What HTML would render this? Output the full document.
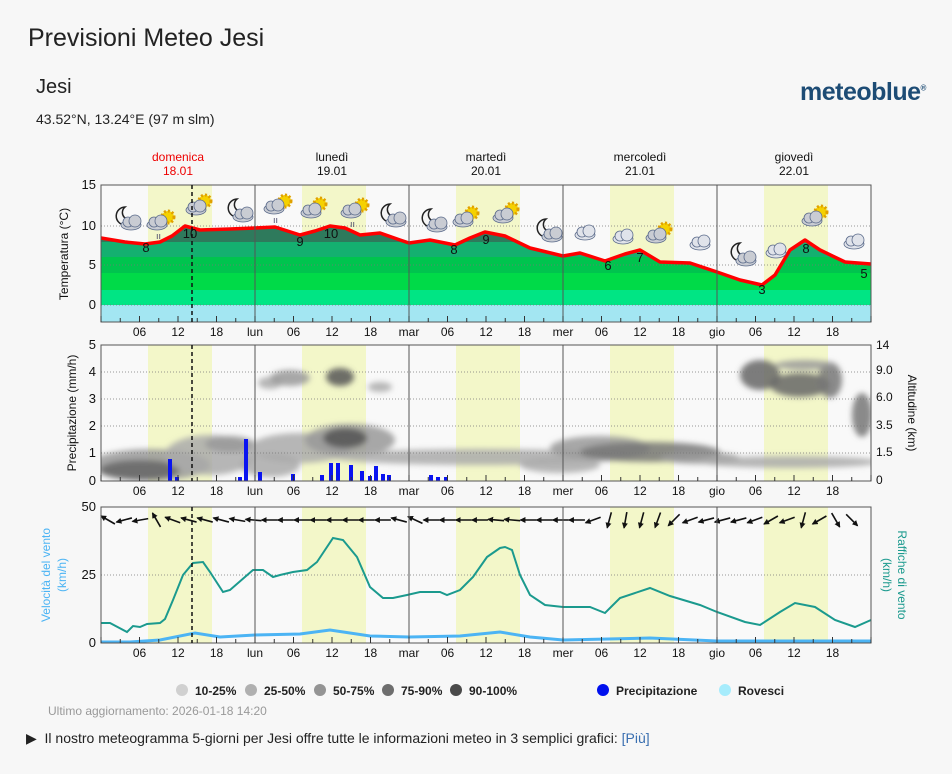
<!DOCTYPE html>
<html><head><meta charset="utf-8"><style>
body{margin:0;background:#f7f7f7;font-family:"Liberation Sans","DejaVu Sans",sans-serif;width:952px;height:774px;overflow:hidden;position:relative}
.t{position:absolute;white-space:nowrap}
</style></head><body>
<div class="t" style="left:28px;top:24px;font-size:25px;color:#222">Previsioni Meteo Jesi</div>
<div class="t" style="left:36px;top:76px;font-size:20px;color:#222">Jesi</div>
<div class="t" style="left:36px;top:111px;font-size:14px;color:#222">43.52°N, 13.24°E (97 m slm)</div>
<div class="t" style="left:800px;top:78px;font-size:25px;font-weight:bold;color:#1d4c75;letter-spacing:-0.5px">meteoblue<sup style="font-size:8px">®</sup></div>
<svg id="s" width="952" height="774" style="position:absolute;left:0;top:0" font-family="Liberation Sans, DejaVu Sans, sans-serif">
<defs>
<filter id="bl"><feGaussianBlur stdDeviation="3"/></filter>
<marker id="ah" markerUnits="userSpaceOnUse" markerWidth="6" markerHeight="6" refX="5" refY="3" orient="auto"><path d="M0,0 L6,3 L0,6z" fill="#111"/></marker>
<clipPath id="tc"><polygon id="tcp" points=""/></clipPath>
<clipPath id="pc"><rect x="101" y="345" width="770" height="136"/></clipPath>
</defs>
<g id="g"></g>
</svg>
<div class="t" style="left:48px;top:704px;font-size:12px;color:#999">Ultimo aggiornamento: 2026-01-18 14:20</div>
<div class="t" style="left:26px;top:730px;font-size:14px;color:#222">▶&nbsp; Il nostro meteogramma 5-giorni per Jesi offre tutte le informazioni meteo in 3 semplici grafici: <span style="color:#3a6fb0">[Più]</span></div>
<script>
var g=document.getElementById('g'),h='';
var X0=101,D=154,H=D/24;
function tx(x,y,s,o){o=o||{};h+='<text x="'+x+'" y="'+y+'" font-size="'+(o.fs||12)+'" fill="'+(o.c||'#111')+'" text-anchor="'+(o.a||'middle')+'"'+(o.t?' transform="'+o.t+'"':'')+'>'+s+'</text>';}
var panels=[[185,322],[345,481],[507,643]];
panels.forEach(function(p){
 h+='<rect x="101" y="'+p[0]+'" width="770" height="'+(p[1]-p[0])+'" fill="#f9f9f9"/>';
 for(var d=0;d<5;d++)h+='<rect x="'+(X0+d*D+47)+'" y="'+p[0]+'" width="64" height="'+(p[1]-p[0])+'" fill="#f3f7c9"/>';
});
var tp=[[101,238],[125,242],[145,244],[160,242],[172,236],[185,226],[200,230],[230,229],[255,228],[275,227],[300,235],[315,231],[330,226],[345,228],[360,235],[380,233],[400,240],[409,243],[430,240],[455,245],[470,238],[485,232],[505,236],[530,248],[563,256],[580,253],[605,261],[625,254],[640,250],[660,262],[690,263],[717,272],[740,280],[762,285],[775,275],[790,250],[805,240],[820,250],[845,262],[871,264]];
var poly=tp.map(function(p){return p.join(',')}).join(' ')+' 871,322 101,322';
document.getElementById('tcp').setAttribute('points',poly);
var bands=[[185,242,'#2e7a5c'],[242,257,'#14b070'],[257,273,'#00c44e'],[273,290,'#00da48'],[290,305,'#00e584'],[305,322,'#a3e6f2']];
h+='<g clip-path="url(#tc)">';bands.forEach(function(b){h+='<rect x="101" y="'+b[0]+'" width="770" height="'+(b[1]-b[0])+'" fill="'+b[2]+'"/>'});h+='</g>';
h+='<rect x="101" y="305" width="770" height="17" fill="#a3e6f2"/>';
[226,265,305].forEach(function(y){h+='<line x1="101" x2="871" y1="'+y+'" y2="'+y+'" stroke="#777" stroke-dasharray="1,2" stroke-width="0.7"/>'});
h+='<polyline points="'+tp.map(function(p){return p.join(',')}).join(' ')+'" fill="none" stroke="#f00" stroke-width="3.5" stroke-linejoin="round"/>';
[[146,252,'8'],[190,238,'10'],[300,246,'9'],[331,238,'10'],[454,254,'8'],[486,244,'9'],[608,270,'6'],[640,262,'7'],[762,294,'3'],[806,253,'8'],[864,278,'5']].forEach(function(l){tx(l[0],l[1],l[2],{fs:13})});
function cloud(x,y,c){h+='<g fill="'+(c||'#c9ccd3')+'" stroke="#5a6a8a" stroke-width="0.8"><ellipse cx="'+x+'" cy="'+(y+3)+'" rx="10" ry="5"/><circle cx="'+(x-3)+'" cy="'+y+'" r="5"/><circle cx="'+(x+4)+'" cy="'+(y-1)+'" r="6"/></g>';}
function sun(x,y){h+='<circle cx="'+x+'" cy="'+y+'" r="6" fill="#f5d100" stroke="#e0a000" stroke-width="3" stroke-dasharray="2,2"/>';}
function moon(x,y){h+='<path d="M'+x+','+(y-9)+' a9,9 0 1,0 9,11 a7,7 0 1,1 -9,-11z" fill="#f5f5f5" stroke="#222" stroke-width="1.5"/>';}
[[125,216,'m'],[160,222,'r'],[200,205,'s'],[237,208,'m'],[277,206,'r'],[315,208,'s'],[354,210,'r'],[390,213,'m'],[431,218,'m'],[467,217,'s'],[507,213,'s'],[546,228,'m'],[585,232,'c'],[623,236,'c'],[660,233,'s'],[700,242,'c'],[740,252,'m'],[776,250,'c'],[816,216,'s'],[854,241,'c']].forEach(function(i){
 if(i[2]=='m'){moon(i[0],i[1]);cloud(i[0]+6,i[1]+6)}
 else if(i[2]=='s'){sun(i[0]+5,i[1]-4);cloud(i[0]-4,i[1]+2)}
 else if(i[2]=='r'){sun(i[0]+8,i[1]-5);cloud(i[0]-3,i[1]);h+='<text x="'+(i[0]-4)+'" y="'+(i[1]+17)+'" font-size="9" fill="#446">ıı</text>'}
 else cloud(i[0],i[1],'#e0e3ea');
});
var cl=[[150,465,60,16,'#999'],[140,470,40,10,'#666'],[210,455,45,20,'#aaa'],[230,444,25,8,'#999'],[300,448,50,15,'#aaa'],[350,440,45,16,'#999'],[345,438,22,10,'#555'],[480,457,150,8,'#aaa'],[600,448,50,12,'#999'],[650,452,70,10,'#777'],[700,458,40,6,'#999'],[790,462,90,6,'#aaa'],[270,383,12,6,'#aaa'],[290,378,20,8,'#999'],[340,377,14,9,'#555'],[380,387,12,5,'#aaa'],[760,375,20,15,'#666'],[800,385,30,12,'#666'],[830,380,12,18,'#777'],[805,365,30,5,'#999'],[862,415,10,22,'#777'],[270,465,30,12,'#aaa'],[560,465,40,8,'#aaa']];
h+='<g clip-path="url(#pc)" filter="url(#bl)">';cl.forEach(function(c){h+='<ellipse cx="'+c[0]+'" cy="'+c[1]+'" rx="'+c[2]+'" ry="'+c[3]+'" fill="'+c[4]+'" opacity="0.85"/>'});h+='</g>';
[372,399,426,453].forEach(function(y){h+='<line x1="101" x2="871" y1="'+y+'" y2="'+y+'" stroke="#777" stroke-dasharray="1,2" stroke-width="0.7"/>'});
[[170,459],[177,477],[240,477],[246,439],[260,472],[293,474],[322,475],[331,463],[338,463],[351,465],[362,471],[370,476],[376,466],[383,474],[389,475],[431,475],[438,477],[446,477]].forEach(function(b){h+='<rect x="'+(b[0]-2)+'" y="'+b[1]+'" width="4" height="'+(481-b[1])+'" fill="#0a14f0"/>'});
h+='<line x1="101" x2="871" y1="575" y2="575" stroke="#777" stroke-dasharray="1,2" stroke-width="0.7"/>';
var gp=[[101,623],[110,623],[127,632],[133,626],[140,627],[147,624],[160,623],[165,619],[173,600],[183,575],[193,563],[203,562],[210,572],[223,592],[230,590],[253,570],[263,570],[273,577],[280,575],[293,572],[307,570],[317,562],[333,538],[343,540],[357,557],[370,587],[383,598],[393,598],[407,595],[420,592],[440,592],[447,595],[460,590],[473,577],[487,557],[500,548],[505,547],[512,550],[520,575],[530,595],[545,605],[563,607],[590,607],[605,613],[620,598],[650,588],[670,596],[700,605],[717,612],[745,622],[760,625],[780,612],[795,603],[815,607],[835,620],[855,627],[871,620]];
h+='<polyline points="'+gp.map(function(p){return p.join(',')}).join(' ')+'" fill="none" stroke="#1b9a8e" stroke-width="2"/>';
var wp=[[101,642],[130,642],[160,640],[195,633],[220,637],[255,635],[300,634],[330,630],[370,636],[409,637],[460,636],[500,632],[530,637],[563,640],[650,638],[717,641],[871,641]];
h+='<polyline points="'+wp.map(function(p){return p.join(',')}).join(' ')+'" fill="none" stroke="#4cb4f4" stroke-width="3"/>';
var ang=[150,195,190,120,160,165,165,165,170,175,180,180,180,180,180,180,180,180,165,155,180,180,180,180,175,175,180,180,180,180,200,255,260,255,250,225,200,195,195,195,200,210,200,255,210,300,315];
var n=ang.length,step=760/n;
for(var i=0;i<n;i++){var cx=108+i*step,cy=520,a=ang[i]*Math.PI/180,dx=Math.cos(a)*8,dy=-Math.sin(a)*8;
 h+='<line x1="'+(cx-dx)+'" y1="'+(cy-dy)+'" x2="'+(cx+dx)+'" y2="'+(cy+dy)+'" stroke="#111" stroke-width="1.6" marker-end="url(#ah)"/>';}
panels.forEach(function(p,k){
 h+='<rect x="101" y="'+p[0]+'" width="770" height="'+(p[1]-p[0])+'" fill="none" stroke="#555" stroke-width="1"/>';
 for(var d=1;d<5;d++)h+='<line x1="'+(X0+d*D)+'" x2="'+(X0+d*D)+'" y1="'+p[0]+'" y2="'+p[1]+'" stroke="#555"/>';
 h+='<line x1="192" x2="192" y1="'+p[0]+'" y2="'+p[1]+'" stroke="#111" stroke-width="1.5" stroke-dasharray="4,3"/>';
 for(var t=0;t<=120;t+=3)h+='<line x1="'+(X0+t*H)+'" x2="'+(X0+t*H)+'" y1="'+p[1]+'" y2="'+(p[1]-(t%6?4:6))+'" stroke="#333"/>';
 var dn=['','lun','mar','mer','gio'];
 for(var d=0;d<5;d++){[6,12,18].forEach(function(hh){tx(X0+d*D+hh*H,p[1]+14,(hh<10?'0':'')+hh,{fs:12})});if(d)tx(X0+d*D,p[1]+14,dn[d],{fs:12});}
});
[[185,'15'],[226,'10'],[265,'5'],[305,'0']].forEach(function(l){tx(96,l[0]+4,l[1],{a:'end',fs:13})});
[[345,'5'],[372,'4'],[399,'3'],[426,'2'],[453,'1'],[481,'0']].forEach(function(l){tx(96,l[0]+4,l[1],{a:'end',fs:13})});
[[345,'14'],[370,'9.0'],[397,'6.0'],[425,'3.5'],[452,'1.5'],[480,'0']].forEach(function(l){tx(876,l[0]+4,l[1],{a:'start',fs:12})});
[[507,'50'],[575,'25'],[643,'0']].forEach(function(l){tx(96,l[0]+4,l[1],{a:'end',fs:13})});
tx(68,254,'Temperatura (°C)',{fs:12,t:'rotate(-90 68 254)'});
tx(76,413,'Precipitazione (mm/h)',{fs:12,t:'rotate(-90 76 413)'});
tx(908,413,'Altitudine (km)',{fs:12,t:'rotate(90 908 413)'});
tx(50,575,'Velocità del vento',{fs:12,c:'#4cb4f4',t:'rotate(-90 50 575)'});
tx(66,575,'(km/h)',{fs:12,c:'#4cb4f4',t:'rotate(-90 66 575)'});
tx(898,575,'Raffiche di vento',{fs:12,c:'#1b9a8e',t:'rotate(90 898 575)'});
tx(883,575,'(km/h)',{fs:12,c:'#1b9a8e',t:'rotate(90 883 575)'});
[['domenica','18.01','#e00'],['lunedì','19.01','#111'],['martedì','20.01','#111'],['mercoledì','21.01','#111'],['giovedì','22.01','#111']].forEach(function(d,i){var x=X0+i*D+77;tx(x,161,d[0],{c:d[2]});tx(x,175,d[1],{c:d[2]});});
var lg=[[182,'#d0d0d0','10-25%'],[251,'#b0b0b0','25-50%'],[320,'#949494','50-75%'],[388,'#6e6e6e','75-90%'],[456,'#4a4a4a','90-100%'],[603,'#0010ee','Precipitazione'],[725,'#a6ecfc','Rovesci']];
lg.forEach(function(l){h+='<circle cx="'+l[0]+'" cy="690" r="6" fill="'+l[1]+'"/>';h+='<text x="'+(l[0]+13)+'" y="695" font-size="12" font-weight="bold" fill="#222">'+l[2]+'</text>';});
g.innerHTML=h;
</script>
</body></html>
